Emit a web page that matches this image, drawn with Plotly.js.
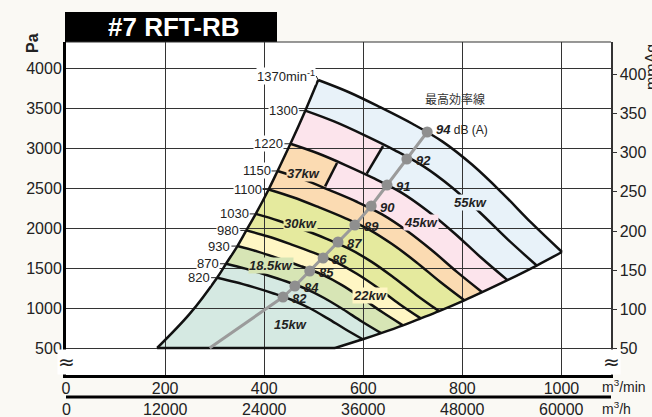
<!DOCTYPE html>
<html><head><meta charset="utf-8">
<script src="https://cdn.plot.ly/plotly-3.0.1.min.js"></script>
<style>html,body{margin:0;padding:0;background:#faf9f4;}#chart{width:652px;height:417px;}</style>
</head><body><div id="chart"></div>
<script>
// ---- data (flow m3/min, pressure Pa) ----
const speeds = [1370, 1300, 1220, 1150, 1100, 1030, 980, 930, 870, 820];
const q1370 = [509, 570, 634, 700, 760, 820, 880, 940, 1001];
const p1370 = [3850, 3700, 3510, 3300, 3080, 2790, 2440, 2060, 1700];
const q1300 = [483, 541, 602, 664, 721, 778, 835, 892, 950];
const p1300 = [3467, 3332, 3161, 2971, 2773, 2512, 2197, 1855, 1531];
const q1220 = [453, 508, 565, 623, 677, 730, 784, 837, 891];
const p1220 = [3053, 2934, 2784, 2617, 2443, 2213, 1935, 1634, 1348];
const q1150 = [427, 479, 532, 588, 638, 688, 739, 789, 840];
const p1150 = [2713, 2607, 2473, 2325, 2170, 1966, 1719, 1452, 1198];
const q1100 = [409, 458, 509, 562, 610, 658, 707, 755, 804];
const p1100 = [2482, 2385, 2263, 2127, 1986, 1799, 1573, 1328, 1096];
const q1030 = [383, 429, 477, 526, 571, 617, 662, 707, 753];
const p1030 = [2176, 2091, 1984, 1865, 1741, 1577, 1379, 1164, 961];
const q980 = [364, 408, 454, 501, 544, 587, 630, 672, 716];
const p980 = [1970, 1893, 1796, 1689, 1576, 1428, 1249, 1054, 870];
const q930 = [346, 387, 430, 475, 516, 557, 597, 638, 680];
const p930 = [1774, 1705, 1617, 1521, 1419, 1286, 1124, 949, 783];
const q870 = [323, 362, 403, 445, 483, 521, 559, 597, 636];
const p870 = [1553, 1492, 1416, 1331, 1242, 1125, 984, 831, 686];
const q820 = [305, 341, 380, 419, 455, 491, 527, 563, 599];
const p820 = [1379, 1326, 1258, 1182, 1103, 1000, 874, 738, 609];
const speedLabels = ['1370min<sup>-1</sup>', '1300', '1220', '1150', '1100', '1030', '980', '930', '870', '820'];
// left (surge) and right (limit) boundaries
const qSurge = [184, 250, 305, 323, 346, 364, 383, 409, 427, 453, 483, 509];
const pSurge = [500, 929, 1379, 1553, 1774, 1970, 2176, 2482, 2713, 3053, 3467, 3850];
const qEnd = [543, 599, 636, 680, 716, 753, 804, 840, 891, 950, 1001];
const pEnd = [500, 609, 686, 783, 870, 961, 1096, 1198, 1348, 1531, 1700];
// motor power boundary segments
const k1Q = [640, 607], k1P = [3025, 2680];
const k2Q = [547, 523], k2P = [2812, 2520];
// max efficiency line
const effStartQ = 290, effStartP = 500;
const dotQ = [438, 462, 492, 519, 549, 583, 616, 648, 688, 729];
const dotP = [1137, 1275, 1462, 1625, 1825, 2037, 2275, 2537, 2862, 3200];
const dotDb = [82, 84, 85, 86, 87, 89, 90, 91, 92, 94];
// motor labels
const kwLabels = ['15kw', '18.5kw', '22kw', '30kw', '37kw', '45kw', '55kw'];
const kwColors = ['#d5e9e2', '#d7e5b5', '#fff6c4', '#e5ea9e', '#fbdbb2', '#fce4ec', '#e8f2f9'];
// axis tick labels
const flowMin = [0, 200, 400, 600, 800, 1000];
const flowHour = [0, 12000, 24000, 36000, 48000, 60000];
const PA_PER_MMAQ = 9.80665;

// ---- layout constants ----
const FONT = 'Liberation Sans, Arial, Helvetica, sans-serif';
const L = 66, R = 611, T = 42, B = 375;
const yRange = [162.5, 4325];
const px = v => (v - L) / (R - L);
const py = v => (B - v) / (B - T);

const curvesQ = [q1370, q1300, q1220, q1150, q1100, q1030, q980, q930, q870, q820];
const curvesP = [p1370, p1300, p1220, p1150, p1100, p1030, p980, p930, p870, p820];

function regionPath(tq, tp) {
  const xs = [], ys = [];
  for (let i = 0; i < qSurge.length; i++) if (pSurge[i] < tp[0]) { xs.push(qSurge[i]); ys.push(pSurge[i]); }
  for (let i = 0; i < tq.length; i++) { xs.push(tq[i]); ys.push(tp[i]); }
  for (let i = qEnd.length - 1; i >= 0; i--) if (pEnd[i] < tp[tp.length - 1]) { xs.push(qEnd[i]); ys.push(pEnd[i]); }
  return 'M' + xs.map((x, i) => x + ',' + ys[i]).join('L') + 'Z';
}
function stair(aq, ap, kq, kp, bq, bp) {
  const q = [], p = [];
  for (let i = 0; i < aq.length; i++) if (aq[i] < kq[0]) { q.push(aq[i]); p.push(ap[i]); }
  q.push(kq[0], kq[1]); p.push(kp[0], kp[1]);
  for (let i = 0; i < bq.length; i++) if (bq[i] > kq[1]) { q.push(bq[i]); p.push(bp[i]); }
  return [q, p];
}
const pinkTop = stair(q1300, p1300, k1Q, k1P, q1220, p1220);
const orangeTop = stair(q1220, p1220, k2Q, k2P, q1150, p1150);
const regions = [
  [q1370, p1370, kwColors[6]],
  [pinkTop[0], pinkTop[1], kwColors[5]],
  [orangeTop[0], orangeTop[1], kwColors[4]],
  [q1100, p1100, kwColors[3]],
  [q980, p980, kwColors[2]],
  [q930, p930, kwColors[1]],
  [q870, p870, kwColors[0]]
];

const shapes = regions.map(r => ({type: 'path', xref: 'x', yref: 'y', layer: 'below',
  path: regionPath(r[0], r[1]), fillcolor: r[2], line: {width: 0}}));
// title box
shapes.push({type: 'rect', xref: 'paper', yref: 'paper', x0: px(65), x1: px(277), y0: 1, y1: py(12),
  fillcolor: '#000', line: {width: 0}, layer: 'above'});
// top border
shapes.push({type: 'line', xref: 'paper', yref: 'paper', x0: 0, x1: 1, y0: 1, y1: 1, line: {color: '#333', width: 1}});
// second flow axis line
shapes.push({type: 'line', xref: 'paper', yref: 'paper', x0: 0, x1: 1, y0: py(397), y1: py(397), line: {color: '#000', width: 3}});

const traces = [];
const blk = {color: '#111', width: 2.5, shape: 'spline'};
for (let i = 0; i < speeds.length; i++)
  traces.push({x: curvesQ[i], y: curvesP[i], mode: 'lines', line: blk, hoverinfo: 'skip'});
traces.push({x: qSurge, y: pSurge, mode: 'lines', line: blk, hoverinfo: 'skip'});
traces.push({x: qEnd, y: pEnd, mode: 'lines', line: blk, hoverinfo: 'skip'});
traces.push({x: [qSurge[0], qEnd[0]], y: [pSurge[0], pEnd[0]], mode: 'lines', line: {color: '#111', width: 2.5}, hoverinfo: 'skip'});
traces.push({x: k1Q, y: k1P, mode: 'lines', line: {color: '#111', width: 2.5}, hoverinfo: 'skip'});
traces.push({x: k2Q, y: k2P, mode: 'lines', line: {color: '#111', width: 2.5}, hoverinfo: 'skip'});
traces.push({x: [effStartQ].concat(dotQ), y: [effStartP].concat(dotP), mode: 'lines',
  line: {color: '#9b9b9b', width: 3}, hoverinfo: 'skip'});
traces.push({x: dotQ, y: dotP, mode: 'markers', marker: {color: '#8f8f8f', size: 11}, hoverinfo: 'skip'});
traces.push({x: [], y: [], yaxis: 'y2', mode: 'markers', hoverinfo: 'skip'});

const ann = [];
// title
ann.push({xref: 'paper', yref: 'paper', x: px(173), y: py(27), text: '<b>#7 RFT-RB</b>', showarrow: false,
  font: {family: FONT, size: 26, color: '#fff'}, xanchor: 'center', yanchor: 'middle'});
ann.push({xref: 'paper', yref: 'paper', x: px(32), y: py(43), text: '<b>Pa</b>', textangle: -90, showarrow: false,
  font: {family: FONT, size: 16, color: '#222'}, xanchor: 'center', yanchor: 'middle'});
ann.push({xref: 'paper', yref: 'paper', x: px(651), y: py(67), text: 'mmAq', textangle: -90, showarrow: false,
  font: {family: FONT, size: 16, color: '#222'}, xanchor: 'center', yanchor: 'middle'});
// speed labels
for (let i = 0; i < speeds.length; i++) {
  ann.push({x: curvesQ[i][0], y: curvesP[i][0], xref: 'x', yref: 'y', text: speedLabels[i],
    showarrow: true, arrowhead: 0, arrowwidth: 1, arrowcolor: '#222', ax: i === 0 ? -2 : -6, ay: i === 0 ? -4 : 0,
    xanchor: 'right', yanchor: 'middle', bgcolor: '#fff', borderpad: 0,
    font: {family: FONT, size: 13, color: '#222'}});
}
// dB labels
for (let i = 0; i < dotQ.length; i++) {
  const last = i === dotQ.length - 1;
  ann.push({x: dotQ[i], y: dotP[i], xref: 'x', yref: 'y', showarrow: false, xanchor: 'left', yanchor: 'middle',
    xshift: 7, yshift: last ? 3 : -1,
    text: last ? '<b><i>' + dotDb[i] + '</i></b><span style="font-size:12px"> dB (A)</span>' : '<b><i>' + dotDb[i] + '</i></b>',
    font: {family: FONT, size: 13, color: '#222'}});
}
ann.push({xref: 'paper', yref: 'paper', x: px(455), y: py(98), text: '最高効率線', showarrow: false,
  font: {family: 'Noto Sans CJK JP, sans-serif', size: 12, color: '#333'}, xanchor: 'center', yanchor: 'middle'});
// kW labels
const kwPos = [[454, 800], [414, 1537], [613, 1162], [474, 2062], [480, 2687], [716, 2075], [817, 2325]];
for (let i = 0; i < kwLabels.length; i++) {
  ann.push({x: kwPos[i][0], y: kwPos[i][1], xref: 'x', yref: 'y', showarrow: false, text: '<b><i>' + kwLabels[i] + '</i></b>',
    bgcolor: kwColors[i], borderpad: 0, font: {family: FONT, size: 13, color: '#222'}, xanchor: 'center', yanchor: 'middle'});
}
// second flow axis labels
for (let i = 0; i < flowHour.length; i++) {
  ann.push({x: flowHour[i] / 60, y: py(409), xref: 'x', yref: 'paper', showarrow: false, text: String(flowHour[i]),
    font: {family: FONT, size: 16, color: '#222'}, xanchor: 'center', yanchor: 'middle'});
}
ann.push({xref: 'paper', yref: 'paper', x: px(600), y: py(386), text: 'm<sup>3</sup>/min', showarrow: false,
  font: {family: FONT, size: 14, color: '#222'}, xanchor: 'left', yanchor: 'middle'});
ann.push({xref: 'paper', yref: 'paper', x: px(600), y: py(408), text: 'm<sup>3</sup>/h', showarrow: false,
  font: {family: FONT, size: 14, color: '#222'}, xanchor: 'left', yanchor: 'middle'});
// axis break marks
[0, 1].forEach(xp => ann.push({xref: 'paper', yref: 'paper', x: xp, y: py(362), text: '≈', showarrow: false,
  font: {family: 'DejaVu Sans', size: 20, color: '#222'}, bgcolor: '#fff', borderpad: 0, xanchor: 'center', yanchor: 'middle'}));

const layout = {
  width: 652, height: 417,
  margin: {l: L, r: 652 - R, t: T, b: 417 - B, pad: 0},
  paper_bgcolor: '#faf9f4', plot_bgcolor: '#ffffff',
  showlegend: false,
  font: {family: FONT, size: 16, color: '#222'},
  xaxis: {range: [0, 1100], tickvals: flowMin, ticktext: flowMin.map(String), showgrid: true, gridcolor: '#333', gridwidth: 1,
    zeroline: false, showline: true, linecolor: '#000', linewidth: 3, ticks: '', ticklabelstandoff: -3,
    tickfont: {size: 16, color: '#222'}},
  yaxis: {range: yRange, dtick: 500, tick0: 0, showgrid: true, gridcolor: '#333', gridwidth: 1, zeroline: false,
    showline: true, linecolor: '#000', linewidth: 3, ticks: '', ticklabelstandoff: -2, tickfont: {size: 16, color: '#222'}},
  yaxis2: {overlaying: 'y', side: 'right', anchor: 'x', range: [yRange[0] / PA_PER_MMAQ, yRange[1] / PA_PER_MMAQ],
    dtick: 50, tick0: 0, showgrid: false, zeroline: false, showline: true, linecolor: '#333', linewidth: 1.5,
    ticks: 'outside', ticklen: 4, tickcolor: '#333', tickfont: {size: 16, color: '#222'}},
  shapes: shapes,
  annotations: ann
};
Plotly.newPlot('chart', traces, layout, {staticPlot: true, displayModeBar: false});
</script></body></html>
